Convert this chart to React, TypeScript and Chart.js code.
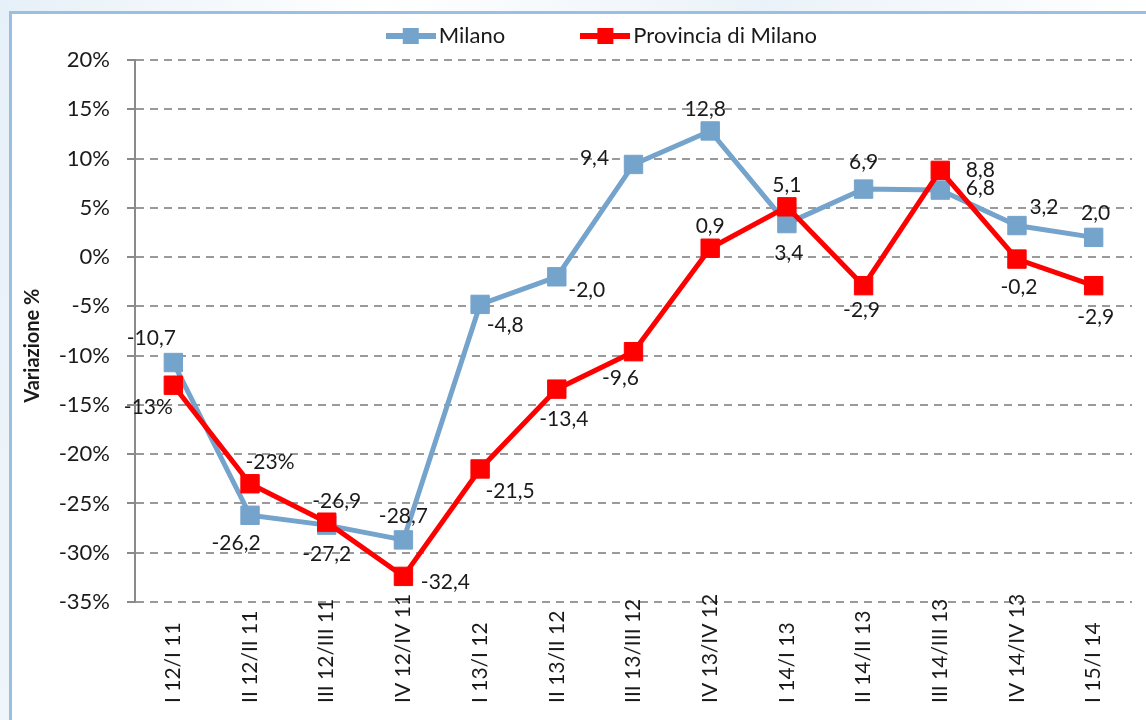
import React, { useEffect, useRef } from "react";
import { Chart, registerables } from "chart.js";

Chart.register(...registerables);

const FONT = "Lato, 'Liberation Sans', sans-serif";

const categories = [
  "I 12/I 11", "II 12/II 11", "III 12/III 11", "IV 12/IV 11",
  "I 13/I 12", "II 13/II 12", "III 13/III 12", "IV 13/IV 12",
  "I 14/I 13", "II 14/II 13", "III 14/III 13", "IV 14/IV 13", "I 15/I 14",
];
const milanoValues = [-10.7, -26.2, -27.2, -28.7, -4.8, -2.0, 9.4, 12.8, 3.4, 6.9, 6.8, 3.2, 2.0];
const provinciaValues = [-13, -23, -26.9, -32.4, -21.5, -13.4, -9.6, 0.9, 5.1, -2.9, 8.8, -0.2, -2.9];
const milanoLabels = ["-10,7", "-26,2", "-27,2", "-28,7", "-4,8", "-2,0", "9,4", "12,8", "3,4", "6,9", "6,8", "3,2", "2,0"];
const provinciaLabels = ["-13%", "-23%", "-26,9", "-32,4", "-21,5", "-13,4", "-9,6", "0,9", "5,1", "-2,9", "8,8", "-0,2", "-2,9"];
const seriesNames = ["Milano", "Provincia di Milano"];
const yMin = -35;
const yMax = 20;
const yStep = 5;
const yTitle = "Variazione %";

// label placement (dx, dy from marker centre) – style only
const milanoLabelOffsets = [[-22, -24], [-14, 28], [0, 29], [0, -24], [25, 21], [30, 13], [-39, -6], [-5, -22], [2, 30], [0, -27], [40, -2], [27, -18], [2, -24]];
const provinciaLabelOffsets = [[-25, 22], [20, -22], [10, -21], [42, 6], [30, 22], [7, 30], [-13, 27], [0, -22], [0, -22], [-2, 25], [40, 0], [2, 28], [2, 32]];

const MILANO = "#74a3cc";
const RED = "#ff0000";
const TEXT = "#1a1a1a";

function makeIcon(color: string) {
  const c = document.createElement("canvas");
  c.width = 50;
  c.height = 20;
  const ctx = c.getContext("2d")!;
  ctx.strokeStyle = color;
  ctx.lineWidth = 6;
  ctx.beginPath();
  ctx.moveTo(0, 10);
  ctx.lineTo(50, 10);
  ctx.stroke();
  ctx.fillStyle = color;
  ctx.fillRect(25 - 8, 2, 16, 16);
  return c;
}

function padTo(text: string, width: number, font: string) {
  const ctx = document.createElement("canvas").getContext("2d")!;
  ctx.font = font;
  let t = text;
  while (ctx.measureText(t + " ").width <= width) t += " ";
  return t;
}

function padExtra(text: string, extra: number, font: string) {
  const ctx = document.createElement("canvas").getContext("2d")!;
  ctx.font = font;
  return padTo(text, ctx.measureText(text).width + extra, font);
}

export default function App() {
  const ref = useRef<HTMLCanvasElement | null>(null);

  useEffect(() => {
    if (!ref.current) return;
    const legendFont = `22px ${FONT}`;
    const titleFont = `bold 20px ${FONT}`;
    const icons = [makeIcon(MILANO), makeIcon(RED)];
    const padded = [padTo(seriesNames[0], 145, legendFont), padTo(seriesNames[1], 245, legendFont)];
    const titleText = padExtra(yTitle, 34, titleFont);
    const labelSets = [
      { labels: milanoLabels, offsets: milanoLabelOffsets },
      { labels: provinciaLabels, offsets: provinciaLabelOffsets },
    ];

    const valueLabels = {
      id: "valueLabels",
      afterDatasetsDraw(chart: any) {
        const ctx = chart.ctx;
        ctx.save();
        ctx.font = `21px ${FONT}`;
        ctx.fillStyle = TEXT;
        ctx.textAlign = "center";
        ctx.textBaseline = "middle";
        chart.data.datasets.forEach((_ds: any, di: number) => {
          const meta = chart.getDatasetMeta(di);
          const set = labelSets[di];
          meta.data.forEach((el: any, i: number) => {
            const [dx, dy] = set.offsets[i];
            ctx.fillText(set.labels[i], el.x + dx, el.y + dy);
          });
        });
        ctx.restore();
      },
    };

    const xLabels = {
      id: "xLabels",
      afterDraw(chart: any) {
        const ctx = chart.ctx;
        const xs = chart.scales.x;
        ctx.save();
        ctx.font = `21px ${FONT}`;
        ctx.fillStyle = TEXT;
        ctx.textAlign = "left";
        ctx.textBaseline = "middle";
        categories.forEach((c, i) => {
          const x = xs.getPixelForTick(i);
          ctx.save();
          ctx.translate(x, xs.top + 101);
          ctx.rotate(-Math.PI / 2);
          ctx.fillText(c, 0, 0);
          ctx.restore();
        });
        ctx.restore();
      },
    };

    const chart = new Chart(ref.current, {
      type: "line",
      data: {
        labels: categories,
        datasets: [
          {
            label: seriesNames[0],
            data: milanoValues,
            borderColor: MILANO,
            backgroundColor: MILANO,
            borderWidth: 5,
            pointStyle: "rect",
            pointRadius: 13,
            pointBorderWidth: 1,
            pointBackgroundColor: MILANO,
            pointBorderColor: MILANO,
            tension: 0,
            order: 2,
          },
          {
            label: seriesNames[1],
            data: provinciaValues,
            borderColor: RED,
            backgroundColor: RED,
            borderWidth: 5,
            pointStyle: "rect",
            pointRadius: 13,
            pointBorderWidth: 1,
            pointBackgroundColor: RED,
            pointBorderColor: RED,
            tension: 0,
            order: 1,
          },
        ],
      },
      options: {
        animation: false,
        responsive: false,
        maintainAspectRatio: false,
        layout: { padding: { left: 21, right: 5, top: 15, bottom: 0 } },
        plugins: {
          tooltip: { enabled: false },
          title: {
            display: true,
            text: "",
            position: "top",
            fullSize: false,
            weight: 500,
            padding: 0,
            font: { size: 3, lineHeight: 1 },
          } as any,
          legend: {
            display: true,
            position: "top",
            fullSize: false,
            labels: {
              usePointStyle: true,
              pointStyleWidth: 34,
              padding: 10,
              color: TEXT,
              font: { family: FONT, size: 22 },
              sort: (a: any, b: any) => a.datasetIndex - b.datasetIndex,
              generateLabels: (chart: any) => {
                const items = (Chart.defaults.plugins.legend.labels as any).generateLabels(chart);
                return items.map((it: any) => ({
                  ...it,
                  text: padded[it.datasetIndex],
                  pointStyle: icons[it.datasetIndex],
                }));
              },
            },
          },
        },
        scales: {
          x: {
            type: "category",
            offset: true,
            grid: { display: false },
            border: { display: false },
            ticks: { display: false },
            afterFit: (s: any) => {
              s.height = 118;
            },
          },
          y: {
            min: yMin,
            max: yMax,
            ticks: {
              stepSize: yStep,
              callback: (v: any) => `${v}%`,
              font: { family: FONT, size: 22 },
              color: TEXT,
              padding: 17,
            },
            grid: { color: "#9a9a9a", lineWidth: 2, tickLength: 8, tickColor: "#8a8a8a" },
            border: { display: true, color: "#8a8a8a", width: 2, dash: [8, 6] },
            title: {
              display: true,
              text: titleText,
              color: TEXT,
              padding: 0,
              font: { family: FONT, size: 20, weight: "bold" },
            },
            afterFit: (s: any) => {
              s.width = 114;
            },
          },
        },
      },
      plugins: [valueLabels, xLabels],
    } as any);
    return () => chart.destroy();
  }, []);

  return (
    <div
      style={{
        position: "fixed",
        left: 0,
        top: 0,
        width: 1146,
        height: 720,
        overflow: "hidden",
        background: "linear-gradient(100deg, #e6f0f8 0%, #ffffff 30%, #eaf2f9 60%, #ffffff 90%)",
      }}
    >
      <div
        style={{
          position: "absolute",
          left: 9,
          top: 11,
          width: 1200,
          height: 800,
          background: "#ffffff",
          borderLeft: "3px solid #9bbfe0",
          borderTop: "3px solid #9bbfe0",
        }}
      />
      <canvas
        ref={ref}
        width={1146}
        height={720}
        style={{ position: "absolute", left: 0, top: 0, width: 1146, height: 720 }}
      />
    </div>
  );
}
